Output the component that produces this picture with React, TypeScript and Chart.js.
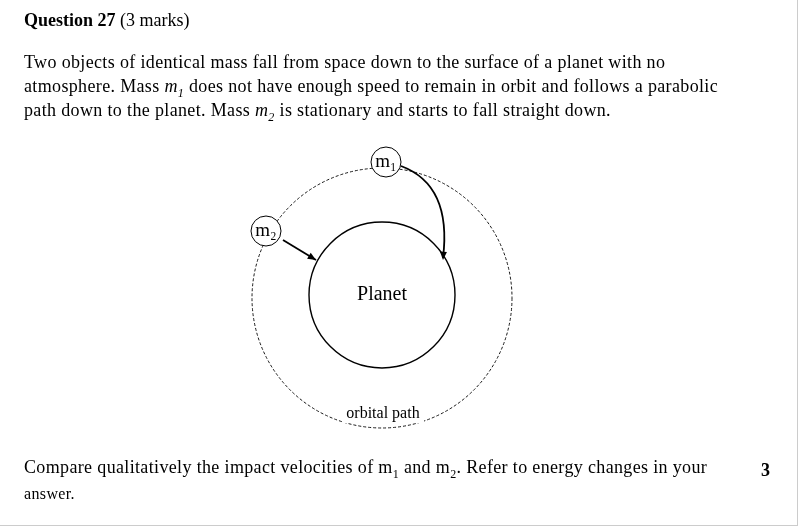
import React, { useEffect, useRef } from "react";
import { Chart, registerables } from "chart.js";
Chart.register(...registerables);

const circleNames = ["orbit", "planet", "m1", "m2"];
const circleX = [382, 382, 386, 266];
const circleY = [298, 295, 162, 231];
const circleR = [130, 73, 15, 15];
const labels = ["", "Planet", "m₁", "m₂"];

const font = "'Liberation Serif', 'Times New Roman', serif";

export default function App() {
  const ref = useRef<HTMLCanvasElement>(null);
  useEffect(() => {
    document.body.style.margin = "0";
    const plugin = {
      id: "diagram",
      afterDatasetsDraw(chart: any) {
        const { ctx, scales } = chart;
        const X = (v: number) => scales.x.getPixelForValue(v);
        const Y = (v: number) => scales.y.getPixelForValue(v);
        const S = (r: number) => Math.abs(X(r) - X(0));
        ctx.save();
        ctx.strokeStyle = "#000";
        circleNames.forEach((n, i) => {
          ctx.beginPath();
          ctx.setLineDash(n === "orbit" ? [3, 2] : []);
          ctx.lineWidth = n === "orbit" ? 0.9 : n === "planet" ? 1.4 : 1;
          ctx.arc(X(circleX[i]), Y(circleY[i]), S(circleR[i]), 0, Math.PI * 2);
          if (n === "m1" || n === "m2") { ctx.fillStyle = "#fff"; ctx.fill(); }
          ctx.stroke();
          if (labels[i]) {
            ctx.fillStyle = "#000";
            ctx.font = (n === "planet" ? "20px " : "19px ") + font;
            ctx.textAlign = "center";
            ctx.textBaseline = "middle";
            ctx.fillText(labels[i], X(circleX[i]), Y(circleY[i]));
          }
        });
        ctx.setLineDash([]);
        ctx.lineWidth = 1.8;
        const ax0 = X(283), ay0 = Y(240), ax1 = X(316), ay1 = Y(260);
        ctx.beginPath(); ctx.moveTo(ax0, ay0); ctx.lineTo(ax1, ay1); ctx.stroke();
        const ang = Math.atan2(ay1 - ay0, ax1 - ax0);
        const head = (x: number, y: number, a: number) => {
          ctx.beginPath();
          ctx.moveTo(x, y);
          ctx.lineTo(x - 9 * Math.cos(a - 0.4), y - 9 * Math.sin(a - 0.4));
          ctx.lineTo(x - 9 * Math.cos(a + 0.4), y - 9 * Math.sin(a + 0.4));
          ctx.closePath(); ctx.fillStyle = "#000"; ctx.fill();
        };
        head(ax1, ay1, ang);
        ctx.beginPath();
        ctx.moveTo(X(401), Y(166));
        ctx.quadraticCurveTo(X(452), Y(185), X(443), Y(258));
        ctx.stroke();
        head(X(443), Y(260), Math.PI / 2 + 0.05);
        ctx.fillStyle = "#fff";
        ctx.fillRect(X(342), Y(406), 82, 17);
        ctx.fillStyle = "#000";
        ctx.font = "16px " + font;
        ctx.textAlign = "center";
        ctx.textBaseline = "middle";
        ctx.fillText("orbital path", X(383), Y(414));
        ctx.restore();
      },
    };
    const chart = new Chart(ref.current!, {
      type: "scatter",
      data: { datasets: [{ data: circleNames.map((_, i) => ({ x: circleX[i], y: circleY[i] })), pointRadius: 0 }] },
      options: {
        animation: false,
        responsive: false,
        layout: { padding: 0 },
        plugins: { legend: { display: false }, tooltip: { enabled: false } },
        scales: {
          x: { type: "linear", min: 0, max: 798, display: false },
          y: { type: "linear", min: 0, max: 526, reverse: true, display: false },
        },
      },
      plugins: [plugin],
    });
    return () => chart.destroy();
  }, []);
  const p: React.CSSProperties = { position: "absolute", left: 24, margin: 0, fontFamily: font, fontSize: 18, letterSpacing: "0.35px", lineHeight: "24px", color: "#000", whiteSpace: "nowrap" };
  const sub: React.CSSProperties = { fontSize: 12, lineHeight: 0 };
  return (
    <div style={{ position: "relative", width: 798, height: 526, background: "#fff", overflow: "hidden" }}>
      <canvas ref={ref} width={798} height={526} style={{ position: "absolute", left: 0, top: 0 }} />
      <div style={{ ...p, top: 8, letterSpacing: 0 }}><b>Question 27</b> (3 marks)</div>
      <div style={{ ...p, top: 50 }}>
        Two objects of identical mass fall from space down to the surface of a planet with no<br />
        atmosphere. Mass <i>m<sub style={sub}>1</sub></i> does not have enough speed to remain in orbit and follows a parabolic<br />
        path down to the planet. Mass <i>m<sub style={sub}>2</sub></i> is stationary and starts to fall straight down.
      </div>
      <div style={{ ...p, top: 455 }}>Compare qualitatively the impact velocities of m<sub style={sub}>1</sub> and m<sub style={sub}>2</sub>. Refer to energy changes in your</div>
      <div style={{ ...p, top: 482, fontSize: 16 }}>answer.</div>
      <div style={{ ...p, left: 761, top: 458 }}><b>3</b></div>
      <div style={{ position: "absolute", right: 0, top: 0, width: 1, height: 526, background: "#ccc" }} />
      <div style={{ position: "absolute", left: 0, bottom: 0, width: 798, height: 1, background: "#ccc" }} />
    </div>
  );
}
